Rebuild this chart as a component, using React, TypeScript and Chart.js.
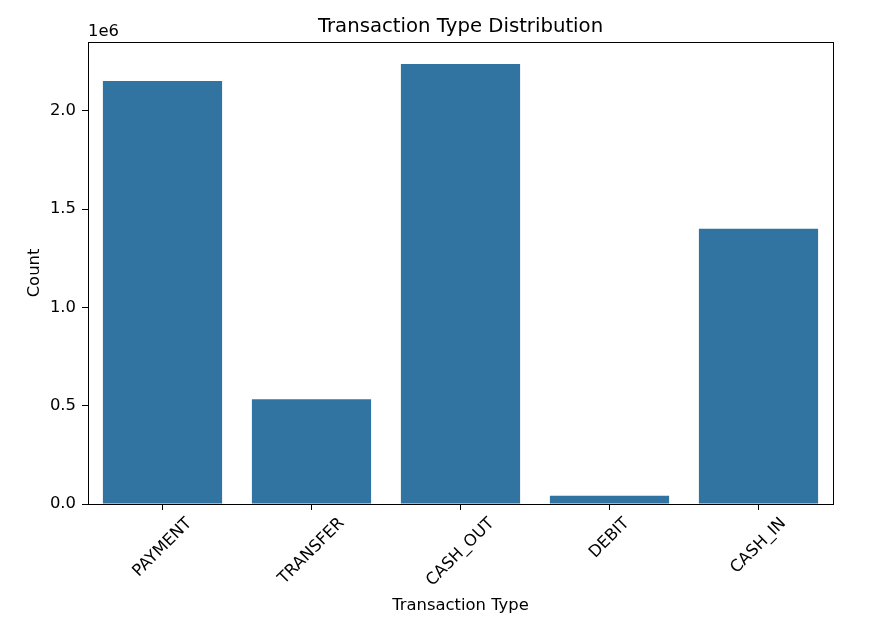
import React, { useEffect, useRef } from "react";
import { Chart, registerables } from "chart.js";

Chart.register(...registerables);

const categories = ["PAYMENT", "TRANSFER", "CASH_OUT", "DEBIT", "CASH_IN"];
const counts = [2151495, 532909, 2237500, 41432, 1399284];
const yTicks = [0, 500000, 1000000, 1500000, 2000000];
const yMax = 2349375;

const FONT = "'DejaVu Sans', sans-serif";
const FS = 16.4;

const decorPlugin = {
  id: "decor",
  afterDraw(chart: any) {
    const { ctx, chartArea: a, scales } = chart;
    ctx.save();
    // frame
    ctx.strokeStyle = "#000";
    ctx.lineWidth = 1;
    ctx.strokeRect(Math.round(a.left) + 0.5, Math.round(a.top) + 0.5, Math.round(a.right - a.left), Math.round(a.bottom - a.top));
    // x tick labels (rotated 45, centered)
    const xs = scales.x;
    ctx.font = FS + "px " + FONT;
    ctx.fillStyle = "#000";
    ctx.textAlign = "center";
    ctx.textBaseline = "middle";
    const c = Math.SQRT1_2;
    categories.forEach((lab, i) => {
      const x = xs.getPixelForTick(i);
      const w = ctx.measureText(lab).width;
      const h = FS;
      const bh = (w + h) * c;
      const top = a.bottom + 11;
      ctx.save();
      ctx.translate(x, top + bh / 2);
      ctx.rotate(-Math.PI / 4);
      ctx.fillText(lab, 0, 0);
      ctx.restore();
    });
    // title
    const cx = (a.left + a.right) / 2;
    ctx.font = "19.7px " + FONT;
    ctx.textBaseline = "alphabetic";
    ctx.fillText("Transaction Type Distribution", cx, 32);
    // x axis title
    ctx.font = FS + "px " + FONT;
    ctx.fillText("Transaction Type", cx, 610);
    // y axis title
    ctx.save();
    ctx.translate(39, (a.top + a.bottom) / 2);
    ctx.rotate(-Math.PI / 2);
    ctx.fillText("Count", 0, 0);
    ctx.restore();
    // offset text
    ctx.textAlign = "left";
    ctx.fillText("1e6", a.left, 36);
    ctx.restore();
  },
};

export default function App() {
  const ref = useRef<HTMLCanvasElement>(null);
  useEffect(() => {
    document.body.style.margin = "0";
    const chart = new Chart(ref.current!, {
      type: "bar",
      data: {
        labels: categories,
        datasets: [
          {
            data: counts,
            backgroundColor: "#3274a1",
            borderWidth: 0,
            categoryPercentage: 0.8,
            barPercentage: 1,
          },
        ],
      },
      options: {
        animation: false,
        responsive: false,
        layout: { padding: { top: 42, right: 57, left: 0, bottom: 0 } },
        plugins: { legend: { display: false }, tooltip: { enabled: false }, title: { display: false } },
        scales: {
          x: {
            offset: true,
            grid: { display: true, drawOnChartArea: false, offset: false, tickLength: 6, color: "#000", tickColor: "#000" },
            border: { display: false },
            ticks: { display: false },
            afterFit(s: any) {
              s.height = 623 - 504;
            },
          },
          y: {
            min: 0,
            max: yMax,
            afterBuildTicks(s: any) {
              s.ticks = yTicks.map((v) => ({ value: v }));
            },
            grid: { display: true, drawOnChartArea: false, tickLength: 6, color: "#000", tickColor: "#000" },
            border: { display: false },
            ticks: {
              color: "#000",
              font: { family: FONT, size: FS },
              padding: 6,
              callback: (v: any) => (Number(v) / 1e6).toFixed(1),
            },
            afterFit(s: any) {
              s.width = 88;
            },
          },
        },
      },
      plugins: [decorPlugin],
    });
    return () => chart.destroy();
  }, []);
  return (
    <div style={{ width: 890, height: 623, background: "#fff" }}>
      <canvas ref={ref} width={890} height={623} style={{ display: "block" }} />
    </div>
  );
}
